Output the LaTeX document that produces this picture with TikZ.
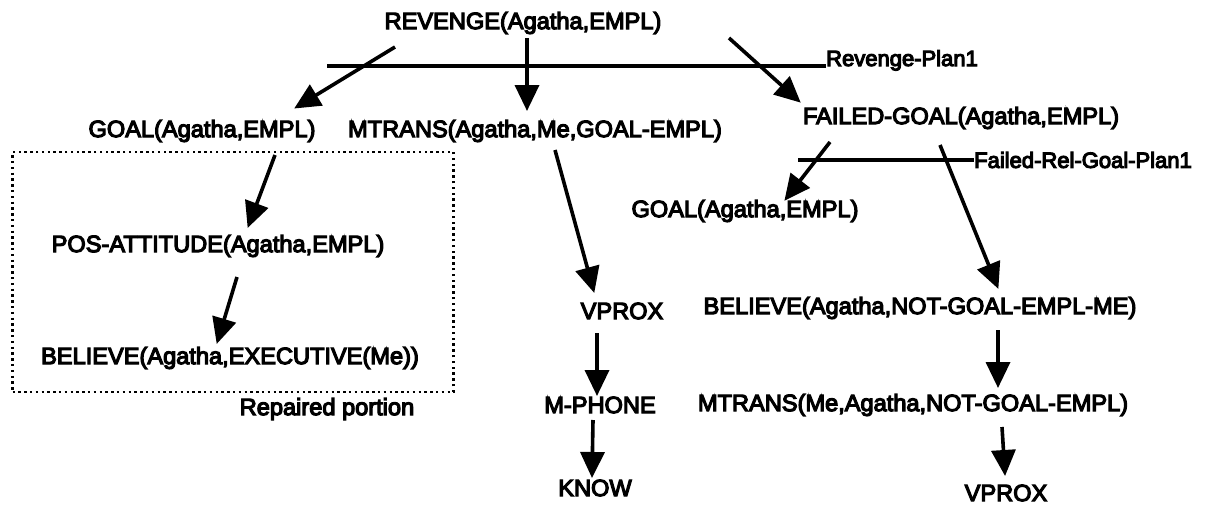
\documentclass[tikz,border=0pt]{standalone}
\usepackage{fontspec}
\setmainfont{Liberation Sans}
\newfontfamily\heavysans{Liberation Sans}[FakeBold=5]
\usetikzlibrary{arrows.meta}
\begin{document}
\begin{tikzpicture}[x=1pt,y=-1pt,
  term/.style={inner sep=0pt, font=\heavysans\fontsize{23.6}{27}\selectfont},
  planlbl/.style={inner sep=0pt, font=\heavysans\fontsize{22}{26}\selectfont},
  arr/.style={line width=3.6pt, -{Triangle[length=26pt,width=24pt]}, shorten >=-1pt},
  planline/.style={line width=3.6pt},
  dotbox/.style={draw, line width=2.8pt, dash pattern=on 2.4pt off 3.4pt,
    minimum width=441pt, minimum height=240pt, inner sep=0pt}]
\useasboundingbox (0,0) rectangle (1218,506);
\fill[white] (0,0) rectangle (1218,506);

% plan nodes
\node[term] (rev)   at (523,23)  {REVENGE(Agatha,EMPL)};
\node[term] (goal1) at (202,131) {GOAL(Agatha,EMPL)};
\node[term] (mt1)   at (535,131) {MTRANS(Agatha,Me,GOAL-EMPL)};
\node[term] (fg)    at (961,118) {FAILED-GOAL(Agatha,EMPL)};
\node[term] (goal2) at (745,211) {GOAL(Agatha,EMPL)};
\node[term] (pos)   at (218,246) {POS-ATTITUDE(Agatha,EMPL)};
\node[term] (bel1)  at (230,358) {BELIEVE(Agatha,EXECUTIVE(Me))};
\node[term] (vp1)   at (622,311) {VPROX};
\node[term] (mph)   at (600,405) {M-PHONE};
\node[term] (know)  at (595,488) {KNOW};
\node[term] (bel2)  at (920,308) {BELIEVE(Agatha,NOT-GOAL-EMPL-ME)};
\node[term] (mt2)   at (913,405) {MTRANS(Me,Agatha,NOT-GOAL-EMPL)};
\node[term] (vp2)   at (1006,493) {VPROX};

% repaired portion frame
\node[dotbox] (box) at (233,272) {};
\node[term] (rep) at (327,409) {Repaired portion};

% plan labels and their bars
\node[planlbl, anchor=base west] (rp1) at (826,66) {Revenge-Plan1};
\coordinate (rp1s) at (327,66);
\draw[planline] (rp1s) -- (rp1.base west);
\node[planlbl, anchor=west] (frp1) at (974,160) {Failed-Rel-Goal-Plan1};
\coordinate (frp1s) at (798,160);
\draw[planline] (frp1s) -- (frp1.west);

% arrows
\draw[arr] ([shift={(-128,24)}]rev.center) -- ([shift={(93,-23)}]goal1.center);
\draw[arr] ([shift={(4,15)}]rev.center) -- ([shift={(-8,-21)}]mt1.center);
\draw[arr] ([shift={(206,15)}]rev.center) -- ([shift={(-161,-16)}]fg.center);
\draw[arr] ([shift={(73,24)}]goal1.center) -- ([shift={(30,-19)}]pos.center);
\draw[arr] ([shift={(19,31)}]pos.center) -- ([shift={(-13,-15)}]bel1.center);
\draw[arr] ([shift={(20,19)}]mt1.center) -- ([shift={(-28,-19)}]vp1.center);
\draw[arr] ([shift={(-25,22)}]vp1.center) -- ([shift={(-3,-10)}]mph.center);
\draw[arr] ([shift={(-7,15)}]mph.center) -- ([shift={(-3,-11)}]know.center);
\draw[arr] ([shift={(-131,24)}]fg.center) -- ([shift={(40,-11)}]goal2.center);
\draw[arr] ([shift={(-21,27)}]fg.center) -- ([shift={(78,-20)}]bel2.center);
\draw[arr] ([shift={(78,22)}]bel2.center) -- ([shift={(85,-18)}]mt2.center);
\draw[arr] ([shift={(89,22)}]mt2.center) -- ([shift={(-1,-18)}]vp2.center);
\end{tikzpicture}
\end{document}
